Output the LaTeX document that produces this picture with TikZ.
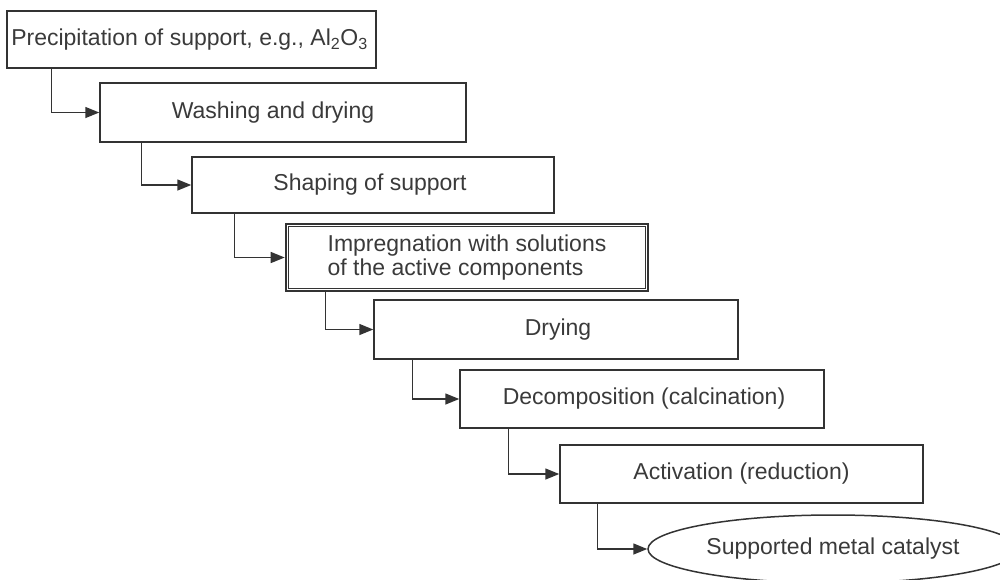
\documentclass[tikz,border=0pt]{standalone}
\usepackage{fontspec}
\setmainfont{Liberation Sans}
\usetikzlibrary{arrows.meta,shapes.geometric}
\definecolor{ink}{HTML}{333333}
\definecolor{txt}{HTML}{3A3A3A}
\begin{document}
\begin{tikzpicture}[x=1pt,y=-1pt,
  stepbox/.style={draw=ink,line width=1.5pt,rectangle,inner sep=0pt,
    text=txt,font=\fontsize{23}{23.5}\selectfont},
  arr/.style={draw=ink,line width=1.5pt,-{Triangle[length=14pt,width=11pt]}}]
\useasboundingbox (0,0) rectangle (1000,579);
\node[stepbox,minimum width=369pt,minimum height=57pt] (b1) at (191.5,39.5)
  {Precipitation of support, e.g., Al\textsubscript{2}O\textsubscript{3}\hspace*{4pt}};
\node[stepbox,minimum width=366pt,minimum height=59pt] (b2) at (283,112.5)
  {Washing and drying\hspace*{20pt}};
\node[stepbox,minimum width=362pt,minimum height=56pt] (b3) at (373,185)
  {Shaping of support\hspace*{6pt}};
\node[stepbox,line width=2.6pt,minimum width=362pt,minimum height=67pt,align=left] (b4) at (467,257.5)
  {Impregnation with solutions\\of the active components};
\draw[ink,line width=1.1pt] ([shift={(3.5pt,-3.5pt)}]b4.north west) rectangle ([shift={(-3.5pt,3.5pt)}]b4.south east);
\node[stepbox,minimum width=364pt,minimum height=59pt] (b5) at (556,329.5)
  {\hspace*{4pt}Drying};
\node[stepbox,minimum width=364pt,minimum height=58pt] (b6) at (642,399)
  {\hspace*{4pt}Decomposition (calcination)};
\node[stepbox,minimum width=363pt,minimum height=58pt] (b7) at (741.5,474)
  {Activation (reduction)};
\node[stepbox,ellipse,minimum width=370pt,minimum height=68pt] (cat) at (833,549)
  {Supported metal catalyst};
\draw[arr] ([xshift=45pt]b1.south west) |- (b2.west);
\draw[arr] ([xshift=42pt]b2.south west) |- (b3.west);
\draw[arr] ([xshift=43pt]b3.south west) |- (b4.west);
\draw[arr] ([xshift=41pt]b4.south west) |- (b5.west);
\draw[arr] ([xshift=39pt]b5.south west) |- (b6.west);
\draw[arr] ([xshift=49pt]b6.south west) |- (b7.west);
\draw[arr] ([xshift=38pt]b7.south west) |- (cat.west);
\end{tikzpicture}
\end{document}
